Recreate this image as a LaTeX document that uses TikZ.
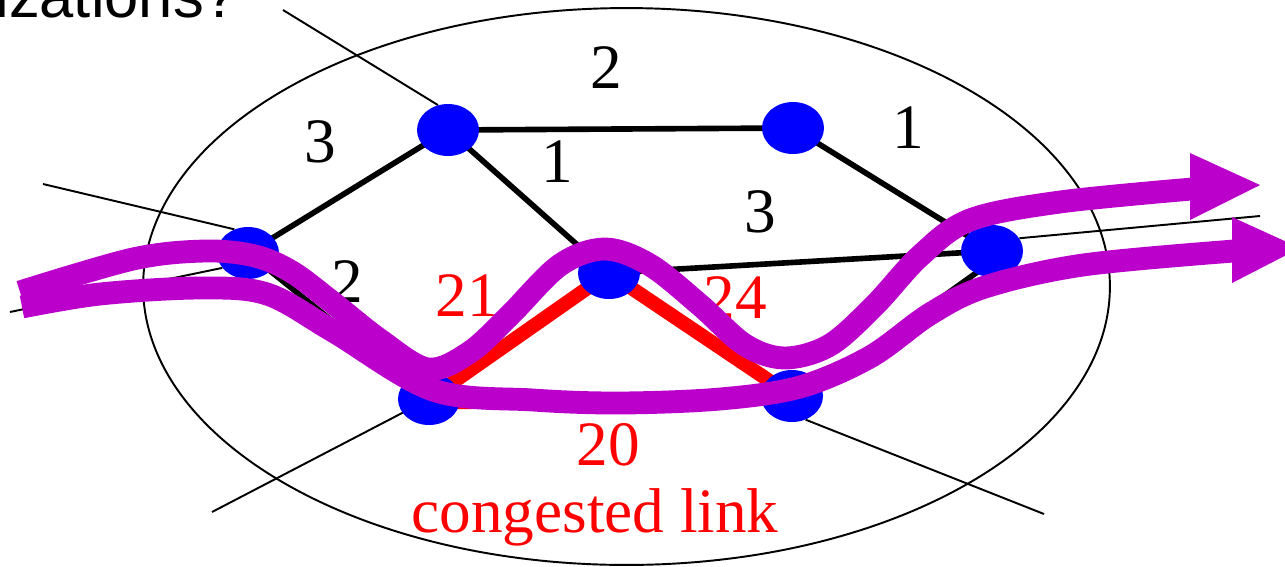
\documentclass[tikz,border=0pt]{standalone}
\usepackage{fontspec}
\setmainfont{Liberation Serif}
\newfontfamily\topfont{Liberation Sans}
\usetikzlibrary{shapes.geometric}
\pgfdeclarelayer{bg}
\pgfsetlayers{bg,main}
\definecolor{flowc}{RGB}{187,0,204}
\begin{document}
\begin{tikzpicture}[x=0.02cm,y=-0.02cm,
  router/.style={ellipse,fill=blue,inner sep=0pt,minimum width=1.24cm,minimum height=1.04cm},
  link/.style={line width=3.2pt,black},
  hot/.style={line width=8pt,red},
  stub/.style={line width=1.1pt,black},
  wlabel/.style={font=\fontsize{36}{40}\selectfont,inner sep=0pt},
  flow/.style={line width=13pt,flowc},
  flowhead/.style={fill=flowc}]
\useasboundingbox (0,0) rectangle (1285,566);
\node[anchor=base west,inner sep=0pt,font=\topfont\fontsize{35}{40}\selectfont] (title) at (-5,17) {izations?};
\draw[line width=1.1pt] (626.5,286.5) ellipse [x radius=9.67cm,y radius=5.57cm];
% routers
\node[router] (A) at (448,130) {};
\node[router] (B) at (793,128) {};
\node[router] (C) at (248,253) {};
\node[router] (D) at (609,273) {};
\node[router] (E) at (992,251) {};
\node[router] (F) at (429,399) {};
\node[router] (G) at (792,396) {};
% free ends of external links
\coordinate (a1) at (283,10);
\coordinate (c1) at (43,184);
\coordinate (c2) at (10,312);
\coordinate (f1) at (212,512);
\coordinate (g1) at (1044,514);
\coordinate (e1) at (1260,216);
\begin{pgfonlayer}{bg}
\draw[stub] (A.112) -- (a1);
\draw[stub] (C.120) -- (c1);
\draw[stub] (C.210) -- (c2);
\draw[stub] (F.center) -- (f1);
\draw[stub] (G.300) -- (g1);
\draw[stub] (E.25) -- (e1);
\draw[link] (A.center) -- (B.center);
\draw[link] (A.center) -- (C.center);
\draw[link] (A.center) -- (D.center);
\draw[link] (B.center) -- (E.center);
\draw[link] (D.center) -- (E.center);
\draw[link] (C.center) -- (F.center);
\draw[link] ([yshift=-5pt]G.center) -- ([yshift=-6pt]E.center);
\draw[hot] (F.center) -- (D.center);
\draw[hot] (D.center) -- (G.center);
\draw[hot] ([yshift=-2pt]F.center) -- ([yshift=-1pt]G.center);
\end{pgfonlayer}
% link weights
\node[wlabel] (lab) at (606,68) {2};
\node[wlabel] (lac) at (320,142) {3};
\node[wlabel] (lad) at (557,162) {1};
\node[wlabel] (lbe) at (908,128) {1};
\node[wlabel] (lde) at (760,212) {3};
\node[wlabel] (lcf) at (347,282) {2};
\node[wlabel,red] (lfd) at (467,296) {21};
\node[wlabel,red] (ldg) at (735,298) {24};
\node[wlabel,red] (lfg) at (608,445) {20};
\node[wlabel,red,anchor=base] (cong) at (595,532) {congested link};
% traffic flows
\draw[flow] plot[smooth,tension=0.55] coordinates {(20,292) (133,259) (205,251) (255,256) (292,272) (332,302) (380,340) (428,369) (470,352) (510,315) (560,265) (605,249) (650,265) (700,305) (745,345) (785,358) (830,345) (875,305) (920,256) (970,220) (1060,202) (1192,189)};
\fill[flowhead] (1190,153) -- (1260,185) -- (1190,220) -- cycle;
\draw[flow] plot[smooth,tension=0.55] coordinates {(22,307) (100,294) (200,288) (267,294) (333,331) (433,390) (533,400) (620,403) (720,399) (800,387) (870,357) (930,314) (985,287) (1083,265) (1234,251)};
\fill[flowhead] (1232,217) -- (1300,248) -- (1232,283) -- cycle;
\end{tikzpicture}
\end{document}
